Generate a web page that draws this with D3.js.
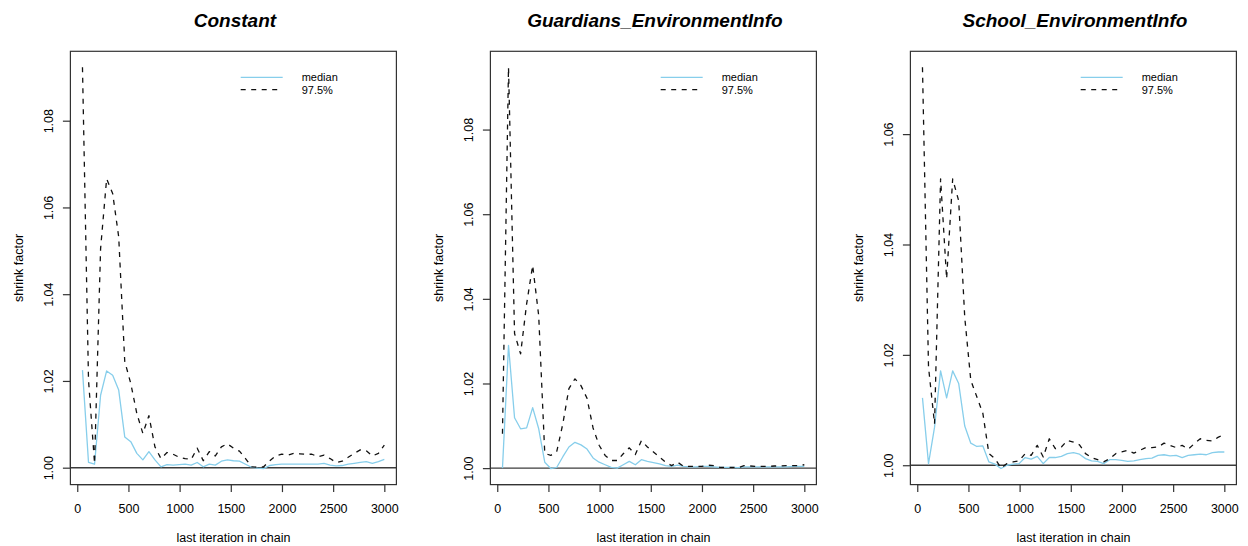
<!DOCTYPE html>
<html>
<head>
<meta charset="utf-8">
<script src="https://cdn.jsdelivr.net/npm/d3@7"></script>
<style>
  body { margin: 0; background: #fff; }
  svg { display: block; }
  text { font-family: "Liberation Sans", Arial, Helvetica, sans-serif; fill: #000; }
</style>
</head>
<body>
<svg id="chart" width="1248" height="546"></svg>
<script>
// Last iteration of each bin in the chain
const iterations = [51, 110, 169, 228, 287, 346, 405, 464, 523, 582, 641, 700, 759, 818, 877,
  936, 995, 1054, 1113, 1172, 1231, 1290, 1349, 1408, 1467, 1526, 1585, 1644, 1703, 1762,
  1821, 1880, 1939, 1998, 2057, 2116, 2175, 2234, 2293, 2352, 2411, 2470, 2529, 2588, 2647,
  2706, 2765, 2824, 2883, 2942, 3000];

const panelTitles = ["Constant", "Guardians_EnvironmentInfo", "School_EnvironmentInfo"];

// Shrink factor (Gelman-Rubin) per parameter: median and 97.5% quantile
const constantMedian = [1.0225, 1.0012, 1.0008, 1.0167, 1.0223, 1.0213, 1.0179, 1.0071, 1.0060, 1.0033,
  1.0018, 1.0037, 1.0018, 1.0002, 1.0007, 1.0006, 1.0007, 1.0008, 1.0006, 1.0012,
  1.0002, 1.0008, 1.0006, 1.0015, 1.0018, 1.0016, 1.0015, 1.0008, 1.0001, 0.9999,
  0.9998, 1.0005, 1.0007, 1.0008, 1.0008, 1.0008, 1.0008, 1.0008, 1.0008, 1.0008,
  1.0010, 1.0006, 1.0004, 1.0005, 1.0008, 1.0010, 1.0012, 1.0014, 1.0010, 1.0014, 1.0019];
const constantUpper = [1.0923, 1.0202, 1.0010, 1.0505, 1.0666, 1.0632, 1.0532, 1.0245, 1.0194, 1.0125,
  1.0079, 1.0120, 1.0048, 1.0021, 1.0035, 1.0031, 1.0024, 1.0021, 1.0019, 1.0045,
  1.0016, 1.0037, 1.0027, 1.0048, 1.0055, 1.0045, 1.0038, 1.0021, 1.0002, 1.0001,
  1.0002, 1.0016, 1.0027, 1.0031, 1.0029, 1.0033, 1.0032, 1.0031, 1.0031, 1.0025,
  1.0029, 1.0021, 1.0012, 1.0015, 1.0024, 1.0033, 1.0041, 1.0039, 1.0027, 1.0033, 1.0052];

const guardiansMedian = [1.0000, 1.0290, 1.0119, 1.0093, 1.0095, 1.0143, 1.0093, 1.0014, 0.9999, 1.0002,
  1.0027, 1.0050, 1.0061, 1.0055, 1.0045, 1.0024, 1.0014, 1.0008, 1.0002, 1.0000,
  1.0008, 1.0016, 1.0008, 1.0020, 1.0016, 1.0013, 1.0010, 1.0006, 1.0004, 1.0007,
  1.0004, 1.0003, 1.0003, 1.0004, 1.0004, 1.0003, 1.0002, 1.0002, 1.0002, 1.0001,
  1.0003, 1.0003, 1.0003, 1.0003, 1.0003, 1.0003, 1.0003, 1.0003, 1.0004, 1.0004, 1.0004];
const guardiansUpper = [1.0081, 1.0947, 1.0318, 1.0270, 1.0388, 1.0479, 1.0360, 1.0035, 1.0030, 1.0040,
  1.0105, 1.0188, 1.0211, 1.0195, 1.0165, 1.0095, 1.0054, 1.0030, 1.0018, 1.0018,
  1.0034, 1.0048, 1.0032, 1.0065, 1.0050, 1.0038, 1.0026, 1.0014, 1.0006, 1.0014,
  1.0004, 1.0004, 1.0004, 1.0004, 1.0007, 1.0006, 1.0002, 1.0002, 1.0002, 1.0001,
  1.0006, 1.0005, 1.0004, 1.0004, 1.0004, 1.0005, 1.0005, 1.0006, 1.0006, 1.0006, 1.0008];

const schoolMedian = [1.0122, 1.0003, 1.0069, 1.0171, 1.0122, 1.0171, 1.0148, 1.0071, 1.0040, 1.0034,
  1.0035, 1.0006, 1.0002, 0.9994, 1.0000, 1.0002, 1.0003, 1.0014, 1.0011, 1.0016,
  1.0003, 1.0014, 1.0014, 1.0016, 1.0021, 1.0023, 1.0020, 1.0012, 1.0008, 1.0007,
  1.0003, 1.0010, 1.0010, 1.0009, 1.0007, 1.0008, 1.0010, 1.0012, 1.0013, 1.0018,
  1.0019, 1.0017, 1.0018, 1.0014, 1.0018, 1.0019, 1.0020, 1.0019, 1.0023, 1.0024, 1.0024];
const schoolUpper = [1.0721, 1.0178, 1.0075, 1.0519, 1.0338, 1.0519, 1.0479, 1.0268, 1.0154, 1.0124,
  1.0094, 1.0021, 1.0012, 0.9995, 1.0003, 1.0006, 1.0008, 1.0021, 1.0018, 1.0036,
  1.0015, 1.0048, 1.0030, 1.0033, 1.0045, 1.0042, 1.0037, 1.0021, 1.0014, 1.0010,
  1.0006, 1.0012, 1.0021, 1.0024, 1.0027, 1.0022, 1.0027, 1.0032, 1.0032, 1.0033,
  1.0040, 1.0036, 1.0032, 1.0036, 1.0029, 1.0039, 1.0048, 1.0045, 1.0044, 1.0051, 1.0055];

const xTicks = [0, 500, 1000, 1500, 2000, 2500, 3000];
const yTicksByPanel = [
  [1.00, 1.02, 1.04, 1.06, 1.08],
  [1.00, 1.02, 1.04, 1.06, 1.08],
  [1.00, 1.02, 1.04, 1.06]
];
const legendLabels = ["median", "97.5%"];
const xLabel = "last iteration in chain";
const yLabel = "shrink factor";

const panels = [
  { title: panelTitles[0], median: constantMedian, upper: constantUpper, yTicks: yTicksByPanel[0] },
  { title: panelTitles[1], median: guardiansMedian, upper: guardiansUpper, yTicks: yTicksByPanel[1] },
  { title: panelTitles[2], median: schoolMedian, upper: schoolUpper, yTicks: yTicksByPanel[2] }
];

// ---- layout ----
const panelStep = 420;
const plotLeft = 70.4, plotRight = 396.4, plotTop = 51.3, plotBottom = 484.6;
const medianColor = "#87CEEB";
const axisColor = "#333";

// base-graphics style axis range: data range widened by 4% on each side
function padded([lo, hi]) {
  const d = (hi - lo) * 0.04;
  return [lo - d, hi + d];
}

const svg = d3.select("#chart");
svg.append("rect").attr("width", 1248).attr("height", 546).attr("fill", "#fff");

panels.forEach((p, i) => {
  const g = svg.append("g").attr("transform", `translate(${i * panelStep},0)`);

  const x = d3.scaleLinear()
    .domain(padded([d3.min(iterations), d3.max(iterations)]))
    .range([plotLeft, plotRight]);
  const allVals = p.median.concat(p.upper);
  const y = d3.scaleLinear()
    .domain(padded([Math.min(1, d3.min(allVals)), Math.max(1, d3.max(allVals))]))
    .range([plotBottom, plotTop]);

  const clipId = `clip-${i}`;
  g.append("clipPath").attr("id", clipId)
    .append("rect")
    .attr("x", plotLeft).attr("y", plotTop)
    .attr("width", plotRight - plotLeft).attr("height", plotBottom - plotTop);

  const plot = g.append("g").attr("clip-path", `url(#${clipId})`);

  const line = d3.line()
    .x((d, k) => x(iterations[k]))
    .y(d => y(d));

  // reference line at shrink factor 1
  plot.append("line")
    .attr("x1", plotLeft).attr("x2", plotRight)
    .attr("y1", y(1)).attr("y2", y(1))
    .attr("stroke", "#3c3c3c").attr("stroke-width", 1.4);

  plot.append("path")
    .datum(p.median)
    .attr("d", line)
    .attr("fill", "none")
    .attr("stroke", medianColor)
    .attr("stroke-width", 1.3)
    .attr("stroke-linejoin", "round");

  plot.append("path")
    .datum(p.upper)
    .attr("d", line)
    .attr("fill", "none")
    .attr("stroke", "#111")
    .attr("stroke-width", 1.3)
    .attr("stroke-dasharray", "5,5.5")
    .attr("stroke-linejoin", "round");

  // plot frame
  g.append("rect")
    .attr("x", plotLeft).attr("y", plotTop)
    .attr("width", plotRight - plotLeft).attr("height", plotBottom - plotTop)
    .attr("fill", "none").attr("stroke", axisColor).attr("stroke-width", 1.2);

  // x axis
  const xAxis = g.append("g")
    .attr("transform", `translate(0,${plotBottom})`)
    .call(d3.axisBottom(x).tickValues(xTicks).tickSize(7.5).tickSizeOuter(0).tickPadding(12.5)
      .tickFormat(d3.format("d")));
  xAxis.select(".domain")
    .attr("d", `M${x(xTicks[0])},0H${x(xTicks[xTicks.length - 1])}`)
    .attr("stroke", axisColor).attr("stroke-width", 1.2);
  xAxis.selectAll(".tick line").attr("stroke", axisColor).attr("stroke-width", 1.2);
  xAxis.selectAll(".tick text")
    .attr("font-size", 12.5)
    .attr("font-family", '"Liberation Sans", Arial, sans-serif')
    .attr("fill", "#000");

  // y axis with rotated labels
  const yAxis = g.append("g")
    .attr("transform", `translate(${plotLeft},0)`)
    .call(d3.axisLeft(y).tickValues(p.yTicks).tickSize(7.5).tickSizeOuter(0)
      .tickFormat(d3.format(".2f")));
  yAxis.select(".domain")
    .attr("d", `M0,${y(p.yTicks[0])}V${y(p.yTicks[p.yTicks.length - 1])}`)
    .attr("stroke", axisColor).attr("stroke-width", 1.2);
  yAxis.selectAll(".tick line").attr("stroke", axisColor).attr("stroke-width", 1.2);
  yAxis.selectAll(".tick text")
    .attr("x", null).attr("dy", null)
    .attr("transform", "translate(-17.4,0) rotate(-90)")
    .attr("text-anchor", "middle")
    .attr("font-size", 12.5)
    .attr("font-family", '"Liberation Sans", Arial, sans-serif')
    .attr("fill", "#000");

  const cx = (plotLeft + plotRight) / 2;

  // title
  g.append("text")
    .attr("x", cx + 1.5).attr("y", 26.5)
    .attr("text-anchor", "middle")
    .attr("font-size", 19)
    .attr("font-weight", "bold")
    .attr("font-style", "italic")
    .text(p.title);

  // axis titles
  g.append("text")
    .attr("x", cx).attr("y", 542.3)
    .attr("text-anchor", "middle")
    .attr("font-size", 12.5)
    .text(xLabel);

  g.append("text")
    .attr("transform", `translate(22.6,${(plotTop + plotBottom) / 2}) rotate(-90)`)
    .attr("text-anchor", "middle")
    .attr("font-size", 12.5)
    .text(yLabel);

  // legend (top right, no box), rows set tightly
  const legend = g.append("g");
  const legendRows = [
    { label: legendLabels[0], color: medianColor, dash: null, ly: 77.4, ty: 81.2 },
    { label: legendLabels[1], color: "#111", dash: "5,5.5", ly: 89.6, ty: 94.0 }
  ];
  legendRows.forEach(r => {
    legend.append("line")
      .attr("x1", 240.7).attr("x2", 282.7)
      .attr("y1", r.ly).attr("y2", r.ly)
      .attr("stroke", r.color).attr("stroke-width", 1.3)
      .attr("stroke-dasharray", r.dash);
    legend.append("text")
      .attr("x", 301.7).attr("y", r.ty)
      .attr("font-size", 11)
      .text(r.label);
  });
});
</script>
</body>
</html>
